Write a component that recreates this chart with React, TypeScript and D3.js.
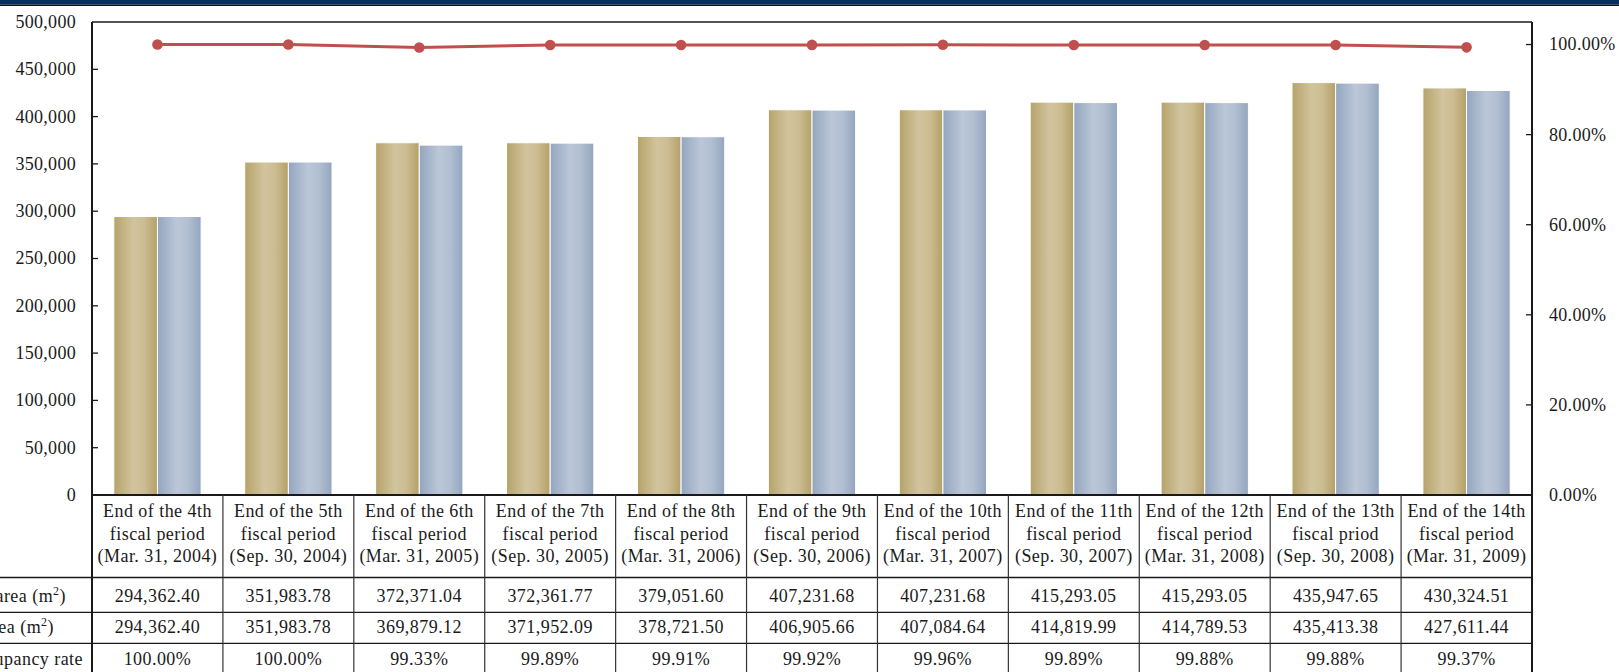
import React from "react";
import * as d3 from "d3";

// Fiscal period columns (three header lines each)
const periods: string[][] = [
  ["End of the 4th", "fiscal period", "(Mar. 31, 2004)"],
  ["End of the 5th", "fiscal period", "(Sep. 30, 2004)"],
  ["End of the 6th", "fiscal period", "(Mar. 31, 2005)"],
  ["End of the 7th", "fiscal period", "(Sep. 30, 2005)"],
  ["End of the 8th", "fiscal period", "(Mar. 31, 2006)"],
  ["End of the 9th", "fiscal period", "(Sep. 30, 2006)"],
  ["End of the 10th", "fiscal period", "(Mar. 31, 2007)"],
  ["End of the 11th", "fiscal period", "(Sep. 30, 2007)"],
  ["End of the 12th", "fiscal period", "(Mar. 31, 2008)"],
  ["End of the 13th", "fiscal priod", "(Sep. 30, 2008)"],
  ["End of the 14th", "fiscal period", "(Mar. 31, 2009)"],
];

const leasableArea: number[] = [
  294362.4, 351983.78, 372371.04, 372361.77, 379051.6, 407231.68, 407231.68,
  415293.05, 415293.05, 435947.65, 430324.51,
];

const leasedArea: number[] = [
  294362.4, 351983.78, 369879.12, 371952.09, 378721.5, 406905.66, 407084.64,
  414819.99, 414789.53, 435413.38, 427611.44,
];

const occupancyRate: number[] = [
  100.0, 100.0, 99.33, 99.89, 99.91, 99.92, 99.96, 99.89, 99.88, 99.88, 99.37,
];

const leftTicks: number[] = [0, 50000, 100000, 150000, 200000, 250000, 300000, 350000, 400000, 450000, 500000];
const rightTicks: number[] = [0, 20, 40, 60, 80, 100];

const rowLabels = ["Leasable area", "Leased area", "Occupancy rate"];

const W = 1619;
const H = 672;
const plotLeft = 92;
const plotRight = 1532;
const plotTop = 22;
const plotBottom = 495;

const FONT = "'Liberation Serif', 'Times New Roman', serif";
const INK = "#1a1a1a";

export default function App() {
  const ids = periods.map((_, i) => String(i));
  const x = d3.scaleBand<string>().domain(ids).range([plotLeft, plotRight]).padding(0);
  const sub = d3
    .scaleBand<string>()
    .domain(["leasable", "leased"])
    .range([0, x.bandwidth()])
    .paddingInner(0)
    .paddingOuter(0.5);
  const yL = d3.scaleLinear().domain([0, 500000]).range([plotBottom, plotTop]);
  const yR = d3.scaleLinear().domain([0, 105]).range([plotBottom, plotTop]);

  const line = d3
    .line<number>()
    .x((_, i) => (x(String(i)) as number) + x.bandwidth() / 2)
    .y((d) => yR(d));

  const fmtArea = d3.format(",.2f");
  const fmtPct = (v: number) => v.toFixed(2) + "%";
  const fmtLeft = d3.format(",");

  // table rows
  const headerBottom = 577.5;
  const rowLines = [headerBottom, 612.3, 643.3];
  const rowBaselines = [601.7, 633.3, 665];
  const labelEnds = [66, 54, 83];
  const headerBaselines = [517.3, 539.8, 562.2];

  const rows: string[][] = [
    leasableArea.map(fmtArea),
    leasedArea.map(fmtArea),
    occupancyRate.map(fmtPct),
  ];

  return (
    <svg
      width={W}
      height={H}
      style={{ position: "absolute", left: 0, top: 0, background: "#fff" }}
      fontFamily={FONT}
    >
      <defs>
        <linearGradient id="gold" x1="0" x2="1" y1="0" y2="0">
          <stop offset="0" stopColor="#B6A36A" />
          <stop offset="0.45" stopColor="#D1C49E" />
          <stop offset="0.7" stopColor="#CBBC92" />
          <stop offset="1" stopColor="#B4A067" />
        </linearGradient>
        <linearGradient id="blue" x1="0" x2="1" y1="0" y2="0">
          <stop offset="0" stopColor="#93A5BF" />
          <stop offset="0.45" stopColor="#BBC7D7" />
          <stop offset="0.7" stopColor="#B2BFD1" />
          <stop offset="1" stopColor="#93A5BF" />
        </linearGradient>
      </defs>

      {/* header band */}
      <rect x={0} y={0} width={W} height={4.5} fill="#05305F" />
      <rect x={0} y={4.5} width={W} height={1.5} fill="#111" />

      {/* bars */}
      {periods.map((_, i) => {
        const x0 = x(String(i)) as number;
        return (
          <g key={i}>
            <rect
              x={x0 + (sub("leasable") as number)}
              y={yL(leasableArea[i])}
              width={sub.bandwidth()}
              height={plotBottom - yL(leasableArea[i])}
              fill="url(#gold)"
              stroke="#fff"
              strokeWidth={1}
            />
            <rect
              x={x0 + (sub("leased") as number)}
              y={yL(leasedArea[i])}
              width={sub.bandwidth()}
              height={plotBottom - yL(leasedArea[i])}
              fill="url(#blue)"
              stroke="#fff"
              strokeWidth={1}
            />
          </g>
        );
      })}

      {/* occupancy line */}
      <path d={line(occupancyRate) || ""} fill="none" stroke="#C0504D" strokeWidth={3} />
      {occupancyRate.map((v, i) => (
        <circle
          key={i}
          cx={(x(String(i)) as number) + x.bandwidth() / 2}
          cy={yR(v)}
          r={5.3}
          fill="#C0504D"
        />
      ))}

      {/* plot frame */}
      <line x1={plotLeft} x2={plotRight} y1={plotTop} y2={plotTop} stroke={INK} strokeWidth={1.5} />
      <line x1={plotLeft} x2={plotLeft} y1={plotTop} y2={H} stroke={INK} strokeWidth={2} />
      <line x1={plotRight} x2={plotRight} y1={plotTop} y2={H} stroke={INK} strokeWidth={2} />
      <line x1={plotLeft} x2={plotRight} y1={plotBottom} y2={plotBottom} stroke={INK} strokeWidth={2} />

      {/* left axis */}
      {leftTicks.map((t) => (
        <g key={t}>
          {t > 0 && t < 500000 && (
            <line x1={plotLeft} x2={plotLeft + 6} y1={yL(t)} y2={yL(t)} stroke={INK} strokeWidth={1.3} />
          )}
          <text
            x={76}
            y={yL(t)}
            dy="0.33em"
            textAnchor="end"
            fontSize={18}
            letterSpacing={0.3}
            fill={INK}
          >
            {fmtLeft(t)}
          </text>
        </g>
      ))}

      {/* right axis */}
      {rightTicks.map((t) => (
        <g key={t}>
          {t > 0 && (
            <line x1={plotRight - 6} x2={plotRight} y1={yR(t)} y2={yR(t)} stroke={INK} strokeWidth={1.3} />
          )}
          <text x={1549} y={yR(t)} dy="0.33em" fontSize={18} letterSpacing={0.3} fill={INK}>
            {t.toFixed(2) + "%"}
          </text>
        </g>
      ))}

      {/* data table */}
      {rowLines.map((y, i) => (
        <line key={i} x1={0} x2={plotRight} y1={y} y2={y} stroke={INK} strokeWidth={1.3} />
      ))}
      {periods.map((_, i) =>
        i > 0 ? (
          <line
            key={i}
            x1={x(String(i)) as number}
            x2={x(String(i)) as number}
            y1={plotBottom}
            y2={H}
            stroke="#333"
            strokeWidth={1.2}
          />
        ) : null
      )}
      {periods.map((lines, i) => {
        const cx = (x(String(i)) as number) + x.bandwidth() / 2;
        return lines.map((s, j) => (
          <text
            key={i + "-" + j}
            x={cx}
            y={headerBaselines[j]}
            textAnchor="middle"
            fontSize={18}
            letterSpacing={0.45}
            fill={INK}
          >
            {s}
          </text>
        ));
      })}
      {rows.map((r, ri) =>
        r.map((s, i) => (
          <text
            key={ri + "-" + i}
            x={(x(String(i)) as number) + x.bandwidth() / 2}
            y={rowBaselines[ri]}
            textAnchor="middle"
            fontSize={18}
            letterSpacing={0.45}
            fill={INK}
          >
            {s}
          </text>
        ))
      )}
      {rowLabels.map((lab, ri) => (
        <text
          key={lab}
          x={labelEnds[ri]}
          y={rowBaselines[ri]}
          textAnchor="end"
          fontSize={18}
          letterSpacing={0.45}
          fill={INK}
        >
          {ri < 2 ? (
            <>
              {lab + " (m"}
              <tspan dy={-7} fontSize={12}>
                2
              </tspan>
              <tspan dy={7}>)</tspan>
            </>
          ) : (
            lab
          )}
        </text>
      ))}
    </svg>
  );
}
